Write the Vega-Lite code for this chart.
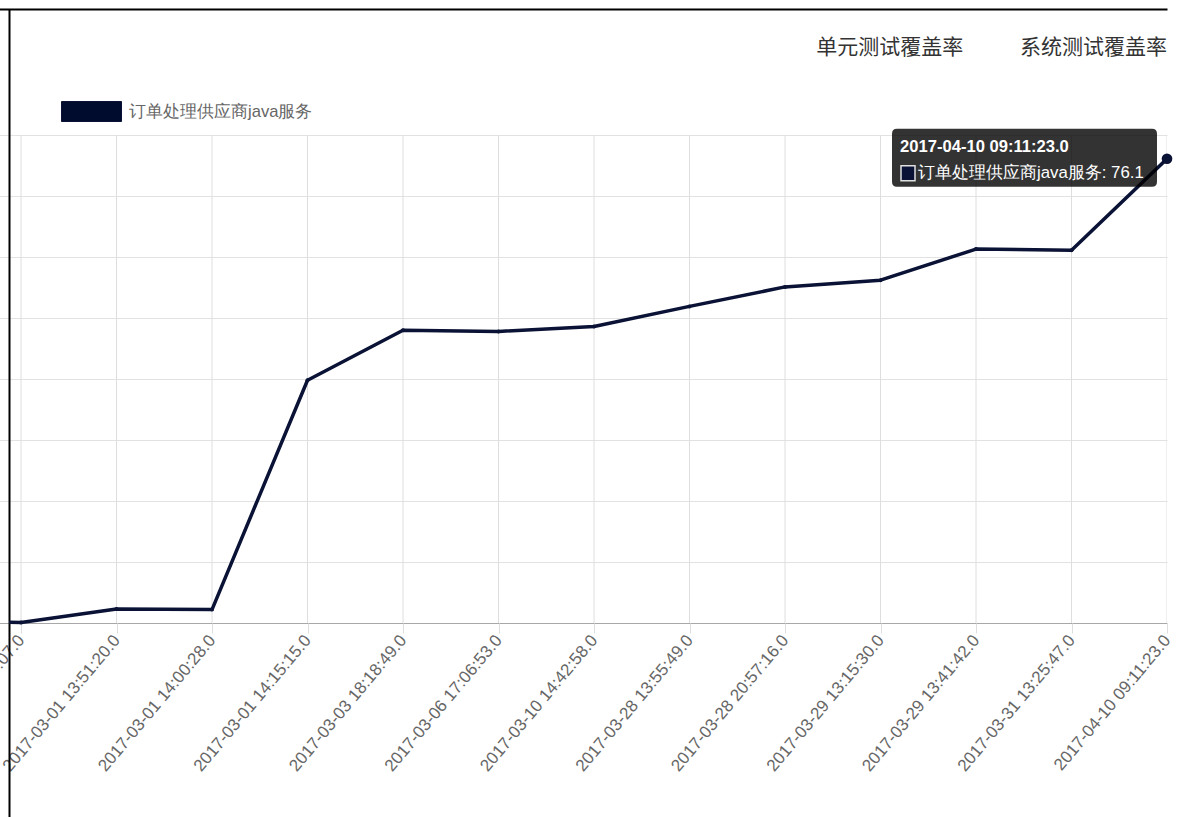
{
  "$schema": "https://vega.github.io/schema/vega-lite/v6.json",
  "autosize": {"type": "none"},
  "padding": {"left": 9, "top": 9, "right": 21, "bottom": 0},
  "width": 1158,
  "height": 808,
  "background": "white",
  "config": {"view": {"stroke": null}},
  "title": {
    "text": "单元测试覆盖率　　\u2002\u2009系统测试覆盖率",
    "orient": "top",
    "anchor": "end",
    "frame": "group",
    "baseline": "middle",
    "offset": 0,
    "dy": 60,
    "font": "Noto Sans CJK SC",
    "fontSize": 21,
    "fontWeight": "normal",
    "color": "#333333"
  },
  "data": {
    "values": [
      {"time": "2017-02-28 17:30:00.0", "series": "订单处理供应商java服务", "rate": 0.3},
      {"time": "2017-03-01 13:46:07.0", "series": "订单处理供应商java服务", "rate": 0.1},
      {"time": "2017-03-01 13:51:20.0", "series": "订单处理供应商java服务", "rate": 2.3},
      {"time": "2017-03-01 14:00:28.0", "series": "订单处理供应商java服务", "rate": 2.2},
      {"time": "2017-03-01 14:15:15.0", "series": "订单处理供应商java服务", "rate": 39.8},
      {"time": "2017-03-03 18:18:49.0", "series": "订单处理供应商java服务", "rate": 48.0},
      {"time": "2017-03-06 17:06:53.0", "series": "订单处理供应商java服务", "rate": 47.8},
      {"time": "2017-03-10 14:42:58.0", "series": "订单处理供应商java服务", "rate": 48.6},
      {"time": "2017-03-28 13:55:49.0", "series": "订单处理供应商java服务", "rate": 51.9},
      {"time": "2017-03-28 20:57:16.0", "series": "订单处理供应商java服务", "rate": 55.1},
      {"time": "2017-03-29 13:15:30.0", "series": "订单处理供应商java服务", "rate": 56.2},
      {"time": "2017-03-29 13:41:42.0", "series": "订单处理供应商java服务", "rate": 61.3},
      {"time": "2017-03-31 13:25:47.0", "series": "订单处理供应商java服务", "rate": 61.1},
      {"time": "2017-04-10 09:11:23.0", "series": "订单处理供应商java服务", "rate": 76.1}
    ]
  },
  "encoding": {
    "x": {
      "field": "time",
      "type": "ordinal",
      "sort": null,
      "scale": {"type": "point", "padding": 0, "range": [-83.5, 1158]},
      "axis": {
        "title": null,
        "orient": "bottom",
        "offset": -194,
        "domain": false,
        "grid": false,
        "ticks": true,
        "tickSize": 10,
        "tickColor": "#dedede",
        "tickWidth": 1,
        "labelAngle": 310,
        "labelAlign": "right",
        "labelBaseline": "middle",
        "labelPadding": 4,
        "labelFont": "Liberation Sans",
        "labelFontSize": 17,
        "labelColor": "#666666",
        "labelOverlap": false,
        "labelBound": false,
        "labelFlush": false,
        "labelLimit": 0
      }
    },
    "y": {
      "field": "rate",
      "type": "quantitative",
      "scale": {"domain": [-31.803, 100.656], "nice": false, "zero": false},
      "axis": {
        "title": null,
        "labels": false,
        "ticks": false,
        "domain": true,
        "domainColor": "#000000",
        "domainWidth": 2,
        "grid": true,
        "values": [0, 10, 20, 30, 40, 50, 60, 70, 80, 100.656],
        "gridColor": {
          "condition": [
            {"test": "datum.value > 100", "value": "#000000"},
            {"test": "datum.value === 0", "value": "#a8a8a8"}
          ],
          "value": "#e2e2e2"
        },
        "gridWidth": {"condition": {"test": "datum.value > 100", "value": 2}, "value": 1}
      }
    }
  },
  "layer": [
    {
      "mark": {"type": "rule", "color": "#dedede", "strokeWidth": 1, "clip": true},
      "encoding": {
        "y": {"datum": 80},
        "y2": {"datum": 0}
      }
    },
    {
      "mark": {"type": "line", "interpolate": "linear", "strokeWidth": 3.5, "strokeJoin": "round", "clip": true},
      "encoding": {
        "color": {
          "field": "series",
          "type": "nominal",
          "scale": {"range": ["#0a1235"]},
          "legend": {
            "title": null,
            "orient": "none",
            "legendX": 72,
            "legendY": 92,
            "padding": 0,
            "symbolType": "M-3,-1H3V1H-3Z",
            "symbolSize": 400,
            "symbolFillColor": "#000c2e",
            "symbolStrokeColor": "#8a8fa0",
            "symbolStrokeWidth": 1,
            "labelOffset": 27,
            "labelLimit": 0,
            "labelFont": "Liberation Sans",
            "labelFontSize": 16.6,
            "labelColor": "#666666",
            "encode": {
              "symbols": {"update": {"fill": {"value": "#000c2e"}, "stroke": {"value": "#8a8fa0"}, "strokeWidth": {"value": 1}, "opacity": {"value": 1}}}
            }
          }
        }
      }
    },
    {
      "mark": {"type": "point", "filled": true, "size": 16, "color": "#0a1235", "opacity": 1, "clip": true}
    },
    {
      "transform": [{"filter": "datum.time === '2017-04-10 09:11:23.0'"}],
      "layer": [
        {
          "mark": {
            "type": "point",
            "shape": "M-270,-30H-15Q-10,-30,-10,-25V23Q-10,28,-15,28H-270Q-275,28,-275,23V-25Q-275,-30,-270,-30Z",
            "size": 4,
            "filled": true,
            "fill": "#000000",
            "fillOpacity": 0.8,
            "opacity": 1,
            "strokeWidth": 0
          }
        },
        {
          "mark": {
            "type": "text",
            "align": "left",
            "baseline": "middle",
            "dx": -267,
            "dy": -12,
            "font": "Liberation Sans",
            "fontSize": 16.6,
            "fontWeight": "bold",
            "color": "#ffffff"
          },
          "encoding": {"text": {"field": "time"}}
        },
        {
          "mark": {
            "type": "point",
            "shape": "M-266,7H-252V22H-266Z",
            "size": 4,
            "filled": true,
            "fill": "#0a1235",
            "stroke": "#e0e0e0",
            "strokeWidth": 1.5,
            "opacity": 1
          }
        },
        {
          "mark": {
            "type": "text",
            "align": "left",
            "baseline": "middle",
            "dx": -249,
            "dy": 14,
            "font": "Liberation Sans",
            "fontSize": 16.8,
            "color": "#ffffff",
            "text": {"expr": "datum.series + ': ' + datum.rate"}
          }
        },
        {
          "mark": {"type": "point", "filled": true, "size": 113, "color": "#0a1235", "opacity": 1}
        }
      ]
    }
  ]
}
